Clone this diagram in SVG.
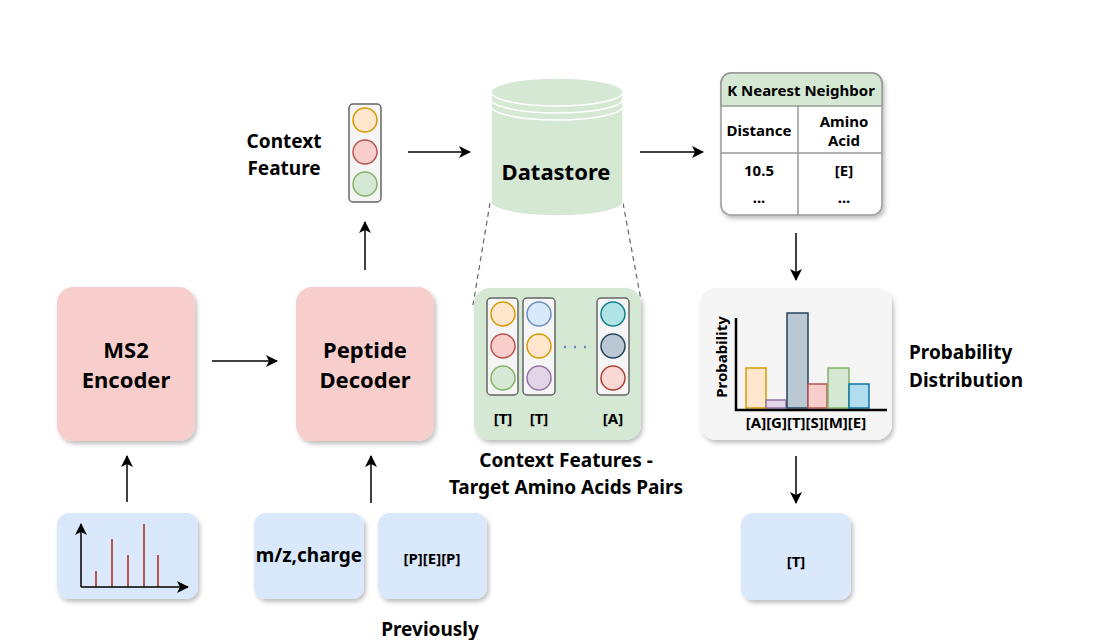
<svg xmlns="http://www.w3.org/2000/svg" width="1100" height="640" viewBox="0 0 1100 640">
<style>
text{font-family:"Noto Sans","DejaVu Sans",sans-serif;font-weight:bold;fill:#000;text-anchor:middle}
.conn{stroke:#000;stroke-width:1.5;fill:none}
.red{fill:#f8cecc;stroke:none}
.blue{fill:#dae8fc}
.vec{fill:#f5f5f5;stroke:#666;stroke-width:1.5}
.big{font-size:22px}
.mid{font-size:19px}
.sm{font-size:15px}
</style>
<defs>
<marker id="ah" markerWidth="12" markerHeight="12" refX="11" refY="6" orient="auto" markerUnits="userSpaceOnUse"><path d="M0,0 L12,6 L0,12 L3,6 z" fill="#000"/></marker>
<filter id="sh" x="-10%" y="-10%" width="130%" height="130%"><feDropShadow dx="2" dy="3" stdDeviation="2" flood-opacity="0.25"/></filter>
</defs>
<rect width="1100" height="640" fill="#fff"/>
<g id="connectors">
<line class="conn" x1="212" y1="361" x2="277" y2="361" marker-end="url(#ah)"/>
<line class="conn" x1="127" y1="502" x2="127" y2="456" marker-end="url(#ah)"/>
<line class="conn" x1="371" y1="503" x2="371" y2="456" marker-end="url(#ah)"/>
<line class="conn" x1="365" y1="270" x2="365" y2="222" marker-end="url(#ah)"/>
<line class="conn" x1="408" y1="152" x2="470" y2="152" marker-end="url(#ah)"/>
<line class="conn" x1="640" y1="152" x2="703" y2="152" marker-end="url(#ah)"/>
<line class="conn" x1="796" y1="233" x2="796" y2="280" marker-end="url(#ah)"/>
<line class="conn" x1="796" y1="456" x2="796" y2="503" marker-end="url(#ah)"/>
<line x1="490" y1="203" x2="473" y2="305" stroke="#666" stroke-dasharray="5,4" stroke-width="1.2"/>
<line x1="623" y1="203" x2="641" y2="300" stroke="#666" stroke-dasharray="5,4" stroke-width="1.2"/>
</g>
<g id="ms2">
<rect x="57" y="287" width="138" height="154" rx="16" class="red" filter="url(#sh)"/>
<text class="big" x="126" y="358">MS2</text><text class="big" x="126" y="388">Encoder</text>
</g>
<g id="decoder">
<rect x="296" y="287" width="138" height="154" rx="16" class="red" filter="url(#sh)"/>
<text class="big" x="365" y="358">Peptide</text><text class="big" x="365" y="388">Decoder</text>
</g>
<g id="contextfeature">
<text class="mid" x="284" y="148">Context</text><text class="mid" x="284" y="175">Feature</text>
<rect x="349" y="104" width="32" height="98" rx="4" class="vec"/>
<circle cx="365" cy="120" r="12" fill="#ffe6cc" stroke="#d79b00" stroke-width="1.5"/>
<circle cx="365" cy="152" r="12" fill="#f8cecc" stroke="#b85450" stroke-width="1.5"/>
<circle cx="365" cy="184" r="12" fill="#d5e8d4" stroke="#82b366" stroke-width="1.5"/>
</g>
<g id="datastore">
<path d="M491,92 L491,202 A66,14 0 0 0 623,202 L623,92" fill="#d5e8d4" stroke="#fff" stroke-width="1.5"/>
<ellipse cx="557" cy="92" rx="66" ry="14" fill="#d5e8d4" stroke="#fff" stroke-width="1.5"/>
<path d="M491,99 A66,14 0 0 0 623,99 M491,106 A66,14 0 0 0 623,106" fill="none" stroke="#fff" stroke-width="1.5"/>
<text class="big" x="556" y="180">Datastore</text>
</g>
<g id="knn">
<rect x="721" y="73" width="161" height="142" rx="10" fill="#fff" stroke="#999" stroke-width="1.5" filter="url(#sh)"/>
<path d="M731,73 H872 A10,10 0 0 1 882,83 V106 H721 V83 A10,10 0 0 1 731,73 Z" fill="#d5e8d4" stroke="#999" stroke-width="1.5"/>
<line x1="721" y1="153" x2="882" y2="153" stroke="#999" stroke-width="1.5"/>
<line x1="798" y1="106" x2="798" y2="215" stroke="#999" stroke-width="1.5"/>
<text class="sm" x="801" y="96">K Nearest Neighbor</text>
<text class="sm" x="759" y="136">Distance</text>
<text class="sm" x="844" y="127">Amino</text><text class="sm" x="844" y="146">Acid</text>
<text class="sm" x="759" y="176">10.5</text><text class="sm" x="844" y="176">[E]</text>
<text class="sm" x="759" y="203">...</text><text class="sm" x="844" y="203">...</text>
</g>
<g id="contextpairs">
<rect x="474" y="288" width="167" height="152" rx="16" fill="#d5e8d4" filter="url(#sh)"/>
<rect x="487" y="298" width="31" height="97" rx="4" class="vec"/>
<rect x="523" y="298" width="32" height="97" rx="4" class="vec"/>
<rect x="597" y="298" width="32" height="97" rx="4" class="vec"/>
<circle cx="503" cy="314" r="12" fill="#ffe6cc" stroke="#d79b00" stroke-width="1.5"/>
<circle cx="503" cy="346" r="12" fill="#f8cecc" stroke="#b85450" stroke-width="1.5"/>
<circle cx="503" cy="378" r="12" fill="#d5e8d4" stroke="#82b366" stroke-width="1.5"/>
<circle cx="539" cy="314" r="12" fill="#dae8fc" stroke="#6c8ebf" stroke-width="1.5"/>
<circle cx="539" cy="346" r="12" fill="#ffe6cc" stroke="#d79b00" stroke-width="1.5"/>
<circle cx="539" cy="378" r="12" fill="#e1d5e7" stroke="#9673a6" stroke-width="1.5"/>
<circle cx="613" cy="314" r="12" fill="#b0e3e6" stroke="#0e8088" stroke-width="1.5"/>
<circle cx="613" cy="346" r="12" fill="#bac8d3" stroke="#23445d" stroke-width="1.5"/>
<circle cx="613" cy="378" r="12" fill="#fad9d5" stroke="#ae4132" stroke-width="1.5"/>
<line x1="564" y1="347" x2="592" y2="347" stroke="#6c8ebf" stroke-width="2.5" stroke-dasharray="2,8"/>
<text class="sm" x="503" y="424">[T]</text><text class="sm" x="539" y="424">[T]</text><text class="sm" x="613" y="424">[A]</text>
<text class="mid" x="566" y="467">Context Features -</text>
<text class="mid" x="566" y="494">Target Amino Acids Pairs</text>
</g>
<g id="probdist">
<rect x="700" y="288" width="192" height="152" rx="16" fill="#f5f5f5" filter="url(#sh)"/>
<rect x="746" y="368" width="20" height="40" fill="#ffe6cc" stroke="#d79b00" stroke-width="1.5"/>
<rect x="766" y="400" width="20" height="8" fill="#e1d5e7" stroke="#9673a6" stroke-width="1.5"/>
<rect x="787" y="313" width="21" height="95" fill="#bac8d3" stroke="#23445d" stroke-width="1.5"/>
<rect x="808" y="384" width="19" height="24" fill="#f8cecc" stroke="#b85450" stroke-width="1.5"/>
<rect x="828" y="368" width="21" height="40" fill="#d5e8d4" stroke="#82b366" stroke-width="1.5"/>
<rect x="849" y="384" width="20" height="24" fill="#b1ddf0" stroke="#10739e" stroke-width="1.5"/>
<polyline points="736,318 736,410 887,410" fill="none" stroke="#000" stroke-width="2.5"/>
<text class="sm" x="0" y="0" transform="translate(727,357) rotate(-90)">Probability</text>
<text class="sm" x="806" y="428">[A][G][T][S][M][E]</text>
<text class="mid" x="909" y="359" style="text-anchor:start">Probability</text>
<text class="mid" x="909" y="387" style="text-anchor:start">Distribution</text>
</g>
<g id="output">
<rect x="741" y="513" width="110" height="87" rx="12" class="blue" filter="url(#sh)"/>
<text class="sm" x="796" y="567">[T]</text>
</g>
<g id="spectrum">
<rect x="57" y="513" width="141" height="86" rx="12" class="blue" filter="url(#sh)"/>
<g stroke="#b85450" stroke-width="2"><line x1="96" y1="587" x2="96" y2="571"/><line x1="112" y1="587" x2="112" y2="539"/><line x1="128" y1="587" x2="128" y2="555"/><line x1="144" y1="587" x2="144" y2="524"/><line x1="158" y1="587" x2="158" y2="555"/></g>
<line x1="81" y1="587" x2="81" y2="524" class="conn" stroke-width="2" marker-end="url(#ah)"/>
<line x1="81" y1="587" x2="188" y2="587" class="conn" stroke-width="2" marker-end="url(#ah)"/>
</g>
<g id="mz">
<rect x="254" y="513" width="110" height="86" rx="12" class="blue" filter="url(#sh)"/>
<text class="mid" x="309" y="562">m/z,charge</text>
</g>
<g id="prev">
<rect x="378" y="513" width="109" height="86" rx="12" class="blue" filter="url(#sh)"/>
<text class="sm" x="432" y="564">[P][E][P]</text>
<text class="mid" x="430" y="636">Previously</text>
</g>
</svg>
